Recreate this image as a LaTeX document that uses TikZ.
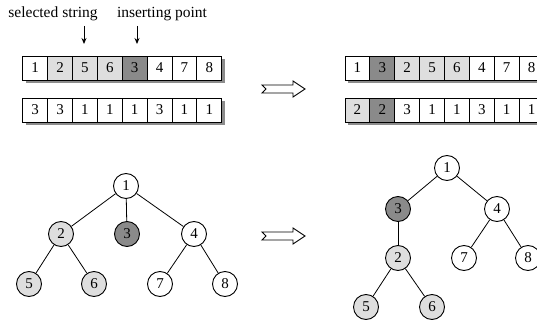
\documentclass[tikz,border=0pt]{standalone}
\usepackage{fontspec}
\setmainfont{Liberation Serif}
\usetikzlibrary{arrows.meta}
\definecolor{darkcell}{RGB}{138,138,138}
\definecolor{lightcell}{RGB}{222,222,222}
\definecolor{shadowc}{RGB}{140,140,140}
\begin{document}
\begin{tikzpicture}[x=1pt,y=-1pt,line width=0.9pt,
  cell/.style={draw,rectangle,minimum width=24.875pt,minimum height=24pt,inner sep=0pt,font=\fontsize{15}{15}\selectfont},
  tnode/.style={draw,circle,minimum size=25pt,inner sep=0pt,font=\fontsize{15}{15}\selectfont},
  lbl/.style={font=\fontsize{15.5}{15.5}\selectfont,inner sep=0pt},
  darr/.style={-{Stealth[length=6pt,width=5pt]},line width=0.9pt},
  blockarrow/.style={draw,fill=white,line width=0.9pt,line join=miter},
  edge/.style={line width=0.8pt}]
\useasboundingbox (0,0) rectangle (537,323);
% shadows
\fill[shadowc] (25.7,59) rectangle (224.7,83);
\fill[shadowc] (25.7,101) rectangle (224.7,125);
\fill[shadowc] (348,59) rectangle (547,83);
\fill[shadowc] (348,101) rectangle (547,125);
% left arrays
\foreach \v/\f [count=\i] in {1/white,2/lightcell,5/lightcell,6/lightcell,3/darkcell,4/white,7/white,8/white}
  \node[cell,fill=\f] (a\i) at ({22.7+24.875*(\i-0.5)},68) {\v};
\foreach \v/\f [count=\i] in {3/white,3/white,1/white,1/white,1/white,3/white,1/white,1/white}
  \node[cell,fill=\f] (b\i) at ({22.7+24.875*(\i-0.5)},110) {\v};
% right arrays
\foreach \v/\f [count=\i] in {1/white,3/darkcell,2/lightcell,5/lightcell,6/lightcell,4/white,7/white,8/white}
  \node[cell,fill=\f] (c\i) at ({345+24.875*(\i-0.5)},68) {\v};
\foreach \v/\f [count=\i] in {2/lightcell,2/darkcell,3/white,1/white,1/white,3/white,1/white,1/white}
  \node[cell,fill=\f] (d\i) at ({345+24.875*(\i-0.5)},110) {\v};
% labels
\node[lbl] (sel) at (53,14) {selected string};
\node[lbl] (ins) at (162,14) {inserting point};
\coordinate (s1) at (84,26);
\coordinate (s2) at (84,44);
\coordinate (i1) at (137,26);
\coordinate (i2) at (137,44);
\draw[darr] (s1) -- (s2);
\draw[darr] (i1) -- (i2);
% block arrows
\foreach \cy in {89,236}
  \path[blockarrow] (262,\cy-4) -- (293,\cy-4) -- (293,\cy-8) -- (305,\cy) -- (293,\cy+8) -- (293,\cy+4) -- (262,\cy+4) -- (266,\cy) -- cycle;
% left tree
\node[tnode,fill=white] (L1) at (126,186) {1};
\node[tnode,fill=lightcell] (L2) at (61,234) {2};
\node[tnode,fill=darkcell] (L3) at (127,234) {3};
\node[tnode,fill=white] (L4) at (194,234) {4};
\node[tnode,fill=lightcell] (L5) at (29,284) {5};
\node[tnode,fill=lightcell] (L6) at (94,284) {6};
\node[tnode,fill=white] (L7) at (160,284) {7};
\node[tnode,fill=white] (L8) at (225,284) {8};
\draw[edge] (L1) -- (L2);
\draw[edge] (L1) -- (L3);
\draw[edge] (L1) -- (L4);
\draw[edge] (L2) -- (L5);
\draw[edge] (L2) -- (L6);
\draw[edge] (L4) -- (L7);
\draw[edge] (L4) -- (L8);
% right tree
\node[tnode,fill=white] (R1) at (447,168) {1};
\node[tnode,fill=darkcell] (R3) at (398,209) {3};
\node[tnode,fill=white] (R4) at (497,209) {4};
\node[tnode,fill=lightcell] (R2) at (398,258) {2};
\node[tnode,fill=white] (R7) at (464,258) {7};
\node[tnode,fill=white] (R8) at (528,258) {8};
\node[tnode,fill=lightcell] (R5) at (366,307) {5};
\node[tnode,fill=lightcell] (R6) at (432,307) {6};
\draw[edge] (R1) -- (R3);
\draw[edge] (R1) -- (R4);
\draw[edge] (R3) -- (R2);
\draw[edge] (R2) -- (R5);
\draw[edge] (R2) -- (R6);
\draw[edge] (R4) -- (R7);
\draw[edge] (R4) -- (R8);
\end{tikzpicture}
\end{document}
